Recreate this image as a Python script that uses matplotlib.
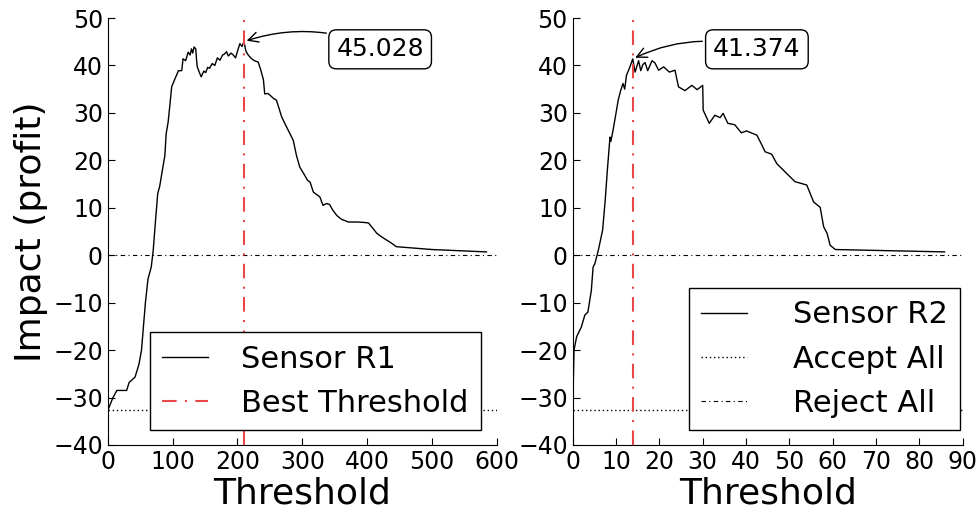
import matplotlib
matplotlib.use("Agg")
import matplotlib.pyplot as plt
from matplotlib.lines import Line2D

# sensor R1: impact (profit) vs threshold
r1_threshold = [
    0, 8, 14, 29, 33, 37, 42, 48, 52, 54.5,
    58, 62, 67, 70, 74, 77, 80, 85, 88, 90,
    93, 96, 98.5, 103, 109, 114, 116, 120, 124, 127,
    129, 131, 133, 135.6, 137, 138, 141, 144, 148, 151,
    154, 157, 161, 165, 169, 173, 177, 180, 183, 186,
    190, 193.5, 197, 200, 203.7, 207, 210, 213, 216.5, 221,
    226, 232, 236, 240, 242, 247, 252, 256, 260, 264,
    268, 274, 281, 286, 291, 296, 303, 308, 312, 317,
    322, 327, 332, 337, 342, 347, 353, 360, 371, 385,
    396, 402, 408, 415, 422, 430, 438, 445, 500, 584,
]
r1_impact = [
    -32.7, -30.0, -28.5, -28.5, -26.8, -26.3, -25.7, -23.0, -20.0, -15.8,
    -10.0, -5.0, -2.5, 1.0, 8.0, 13.0, 14.5, 18.6, 21.0, 25.6,
    28.0, 32.0, 35.5, 37.0, 38.9, 38.9, 41.4, 41.0, 42.8, 42.2,
    43.5, 42.6, 43.9, 43.5, 41.0, 39.7, 38.6, 37.6, 38.8, 38.5,
    39.6, 39.4, 40.4, 40.0, 41.6, 41.1, 42.2, 42.4, 42.9, 42.0,
    42.6, 42.2, 41.6, 43.0, 44.6, 44.0, 45.028, 43.0, 42.2, 41.5,
    41.0, 40.7, 39.0, 37.0, 34.0, 34.1, 33.5, 33.0, 32.7, 31.0,
    29.2, 27.5, 25.6, 24.2, 21.0, 18.6, 17.0, 15.8, 15.4, 13.3,
    12.8, 12.3, 10.5, 10.9, 10.7, 9.5, 8.4, 7.6, 7.0, 7.0,
    6.9, 6.8, 5.8, 4.6, 3.9, 3.2, 2.5, 1.8, 1.2, 0.7,
]

# sensor R2
r2_threshold = [
    0, 0.3, 0.9, 2.0, 2.8, 3.5, 4.3, 4.7, 5.1, 5.9,
    6.9, 7.5, 8.0, 8.6, 8.8, 9.3, 10.0, 10.5, 11.0, 11.6,
    12.0, 12.4, 13.2, 13.85, 14.4, 15.2, 15.7, 16.2, 16.7, 17.3,
    18.3, 19.0, 19.8, 21.0, 22.3, 23.6, 24.4, 25.9, 27.5, 28.7,
    30.0, 30.1, 31.5, 32.8, 34.0, 34.7, 35.8, 37.4, 38.9, 40.1,
    42.5, 43.5, 44.4, 45.9, 47.1, 49.4, 51.3, 54.0, 55.6, 57.1,
    57.9, 58.7, 59.4, 60.6, 85.8,
]
r2_impact = [
    -32.7, -20.0, -17.2, -15.1, -12.6, -12.0, -7.4, -2.5, -1.8, 1.0,
    5.3, 11.6, 18.0, 24.9, 24.0, 26.3, 30.0, 32.7, 34.5, 36.2,
    35.0, 37.9, 39.7, 41.374, 38.6, 41.0, 38.9, 40.2, 40.6, 38.9,
    41.0, 40.5, 39.0, 39.7, 38.6, 39.0, 35.5, 34.7, 35.8, 34.9,
    35.8, 30.6, 27.8, 29.5, 29.0, 29.9, 27.8, 27.5, 25.8, 26.2,
    25.3, 23.5, 21.8, 21.3, 19.3, 17.2, 15.5, 14.8, 11.2, 10.1,
    6.0, 4.6, 2.1, 1.2, 0.7,
]

accept_all = -32.7
reject_all = 0.0

best_r1 = (210, 45.028)
best_r2 = (13.85, 41.374)
text_pos = [(420, 43.4), (42.5, 43.4)]
xlims = [(0, 600), (0, 90)]
xtick_steps = [100, 10]

RED = "#e8484a"

fig = plt.figure(figsize=(9.8, 5.16), dpi=100)
ax1 = fig.add_axes([0.110, 0.1376, 0.397, 0.8275])
ax2 = fig.add_axes([0.5844, 0.1376, 0.398, 0.8275])

panels = [
    (ax1, r1_threshold, r1_impact, best_r1, text_pos[0], xlims[0], xtick_steps[0]),
    (ax2, r2_threshold, r2_impact, best_r2, text_pos[1], xlims[1], xtick_steps[1]),
]

for ax, xs, ys, best, tpos, xl, step in panels:
    ax.plot(xs, ys, color="black", lw=1.0)
    ax.axhline(accept_all, color="black", lw=1.0, ls=(0, (1, 2)))
    ax.axhline(reject_all, color="black", lw=0.8, ls=(0, (4, 3, 1, 3)))
    ax.axvline(best[0], color=RED, lw=1.5, ls=(0, (7, 4, 1, 4)))
    ax.annotate(f"{best[1]:.3f}", xy=best, xytext=tpos,
                ha="center", va="center", fontsize=18,
                bbox=dict(boxstyle="round,pad=0.3", fc="white", ec="black"),
                arrowprops=dict(arrowstyle="->", color="black", lw=1.0,
                                connectionstyle="arc3,rad=0.2"))
    ax.set_xlim(*xl)
    ax.set_xticks(range(xl[0], xl[1] + 1, step))
    ax.set_ylim(-40, 50)
    ax.set_yticks(range(-40, 51, 10))
    ax.spines["top"].set_visible(False)
    ax.spines["right"].set_visible(False)
    ax.tick_params(direction="in", labelsize=17, length=5, top=False, right=False)
    ax.set_xlabel("Threshold", fontsize=26, labelpad=2)

ax1.set_ylabel("Impact (profit)", fontsize=26)

h_sensor1 = Line2D([], [], color="black", lw=1.0)
h_best = Line2D([], [], color=RED, lw=1.5, ls=(0, (7, 4, 1, 4)))
ax1.legend([h_sensor1, h_best], ["Sensor R1", "Best Threshold"],
           loc="lower right", bbox_to_anchor=(0.959, 0.035), borderaxespad=0,
           fontsize=22, fancybox=False, edgecolor="black", framealpha=1,
           handlelength=1.5, handletextpad=1.1)

h_sensor2 = Line2D([], [], color="black", lw=1.0)
h_accept = Line2D([], [], color="black", lw=1.0, ls=(0, (1, 2)))
h_reject = Line2D([], [], color="black", lw=0.8, ls=(0, (4, 3, 1, 3)))
ax2.legend([h_sensor2, h_accept, h_reject], ["Sensor R2", "Accept All", "Reject All"],
           loc="lower right", bbox_to_anchor=(0.993, 0.035), borderaxespad=0,
           fontsize=22, fancybox=False, edgecolor="black", framealpha=1,
           handlelength=1.5, handletextpad=1.5)

fig.savefig("out.png", dpi=100)
